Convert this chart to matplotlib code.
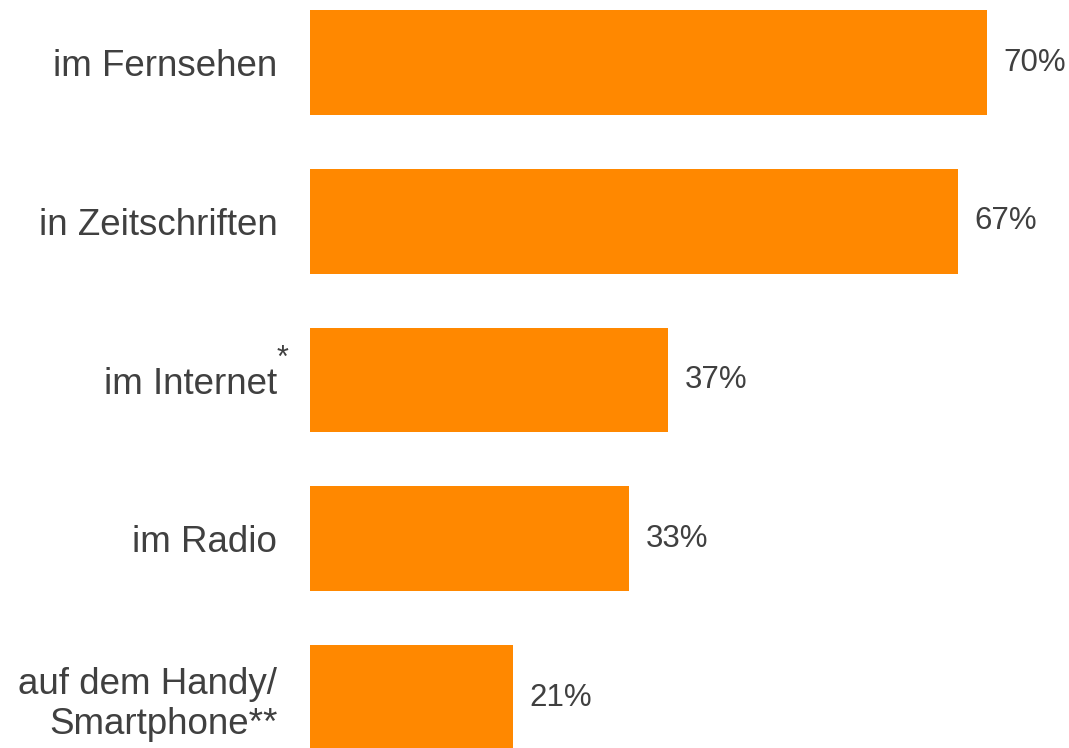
import matplotlib.pyplot as plt

plt.rcParams['font.family'] = ['Liberation Sans', 'DejaVu Sans']

# data
categories = ["im Fernsehen", "in Zeitschriften", "im Internet", "im Radio", "auf dem Handy/\nSmartphone**"]
values = [70, 67, 37, 33, 21]
bar_color = "#FF8800"
text_color = "#404040"

fig = plt.figure(figsize=(10.69, 7.48), dpi=100)
ax = fig.add_axes([310 / 1069, 0, 759 / 1069, 1])

pos = list(range(len(categories)))
ax.barh(pos, values, height=0.661, color=bar_color)

ax.set_xlim(0, 78.5)
ax.set_ylim(4.318, -0.394)

ax.set_yticks(pos)
ax.set_yticklabels(categories, fontsize=26.5, color=text_color, linespacing=1.22)
ax.tick_params(axis="y", length=0, pad=23.5)
ax.set_xticks([])
for s in ax.spines.values():
    s.set_visible(False)

# value labels
for p, v in zip(pos, values):
    ax.annotate(f"{v}%", xy=(v, p), xytext=(12, 0), textcoords="offset points",
                va="center", ha="left", fontsize=22.5, color=text_color)

# asterisk for Internet
ax.annotate("*", xy=(0, 2), xycoords=("axes fraction", "data"),
            xytext=(-20, 15), textcoords="offset points",
            ha="center", va="center", fontsize=22, color=text_color)

fig.savefig("out.png", dpi=100)
